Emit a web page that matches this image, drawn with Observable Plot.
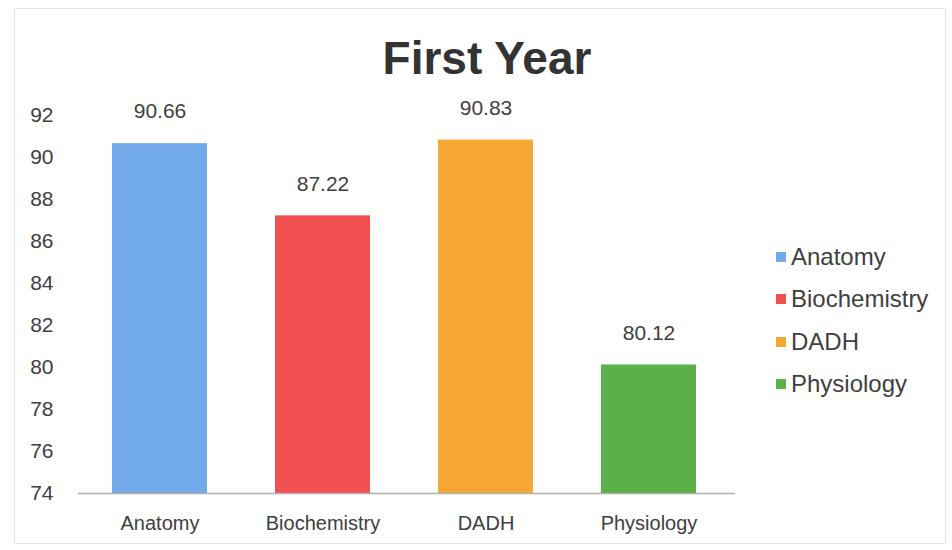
<!DOCTYPE html>
<html>
<head>
<meta charset="utf-8">
<script src="https://cdn.jsdelivr.net/npm/d3@7"></script>
<script src="https://cdn.jsdelivr.net/npm/@observablehq/plot@0.6"></script>
<style>
  html, body { margin: 0; padding: 0; background: #fff; }
  #wrap { position: relative; width: 952px; height: 550px; font-family: "Liberation Sans", Arial, sans-serif; }
  #title { position: absolute; left: 0; width: 974px; top: 31px; text-align: center; font-size: 46px; font-weight: bold; color: #333; }
  #legend { position: absolute; left: 776px; top: 236px; font-size: 24px; color: #404040; }
  .row { height: 42.3px; line-height: 42.3px; display: flex; align-items: center; }
  .sw { width: 10px; height: 10px; margin-right: 5px; }
  #frame { position: absolute; left: 14px; top: 8px; width: 930px; height: 534px; border: 1px solid #e4e4e4; pointer-events: none; }
</style>
</head>
<body>
<div id="wrap">
  <div id="frame"></div>
  <div id="title">First Year</div>
  <div id="legend"></div>
  <div id="chart"></div>
</div>
<script>
const subjects = ["Anatomy", "Biochemistry", "DADH", "Physiology"];
const scores = [90.66, 87.22, 90.83, 80.12];
const colors = ["#72a9ea", "#f25050", "#f7a733", "#5cb04a"];
const yTicks = [74, 76, 78, 80, 82, 84, 86, 88, 90, 92];
const yMin = 74, yMax = 92;

const data = subjects.map((s, i) => ({subject: s, value: scores[i]}));

const chart = Plot.plot({
  width: 952,
  height: 550,
  marginLeft: 78,
  marginRight: 222,
  marginTop: 115,
  marginBottom: 57,
  style: {fontFamily: "'Liberation Sans', Arial, sans-serif", background: "transparent"},
  x: {domain: subjects, paddingInner: 0.418, paddingOuter: 0.2, label: null},
  y: {domain: [yMin, yMax], label: null},
  color: {domain: subjects, range: colors},
  marks: [
    Plot.gridY(yTicks, {stroke: "#d4d4d4", strokeOpacity: 1, x1: 0, x2: 1, insetRight: -5}),
    Plot.barY(data, {x: "subject", y1: () => yMin, y2: "value", fill: "subject"}),
    Plot.ruleY([yMin], {stroke: "#b0b0b0", strokeWidth: 1.5, insetRight: -5}),
    Plot.text(data, {x: "subject", y: "value", text: d => d.value.toFixed(2), dy: -32, fontSize: 21, fill: "#404040"}),
    Plot.axisY({ticks: yTicks, tickSize: 0, tickPadding: 25, fontSize: 21, fill: "#404040"}),
    Plot.axisX({tickSize: 0, tickPadding: 22, fontSize: 20, fill: "#404040"})
  ]
});
chart.style.position = "absolute";
chart.style.left = "0";
chart.style.top = "0";
document.getElementById("chart").appendChild(chart);

const legend = document.getElementById("legend");
subjects.forEach((s, i) => {
  const row = document.createElement("div");
  row.className = "row";
  const sw = document.createElement("div");
  sw.className = "sw";
  sw.style.background = colors[i];
  const t = document.createElement("span");
  t.textContent = s;
  row.appendChild(sw);
  row.appendChild(t);
  legend.appendChild(row);
});
</script>
</body>
</html>
